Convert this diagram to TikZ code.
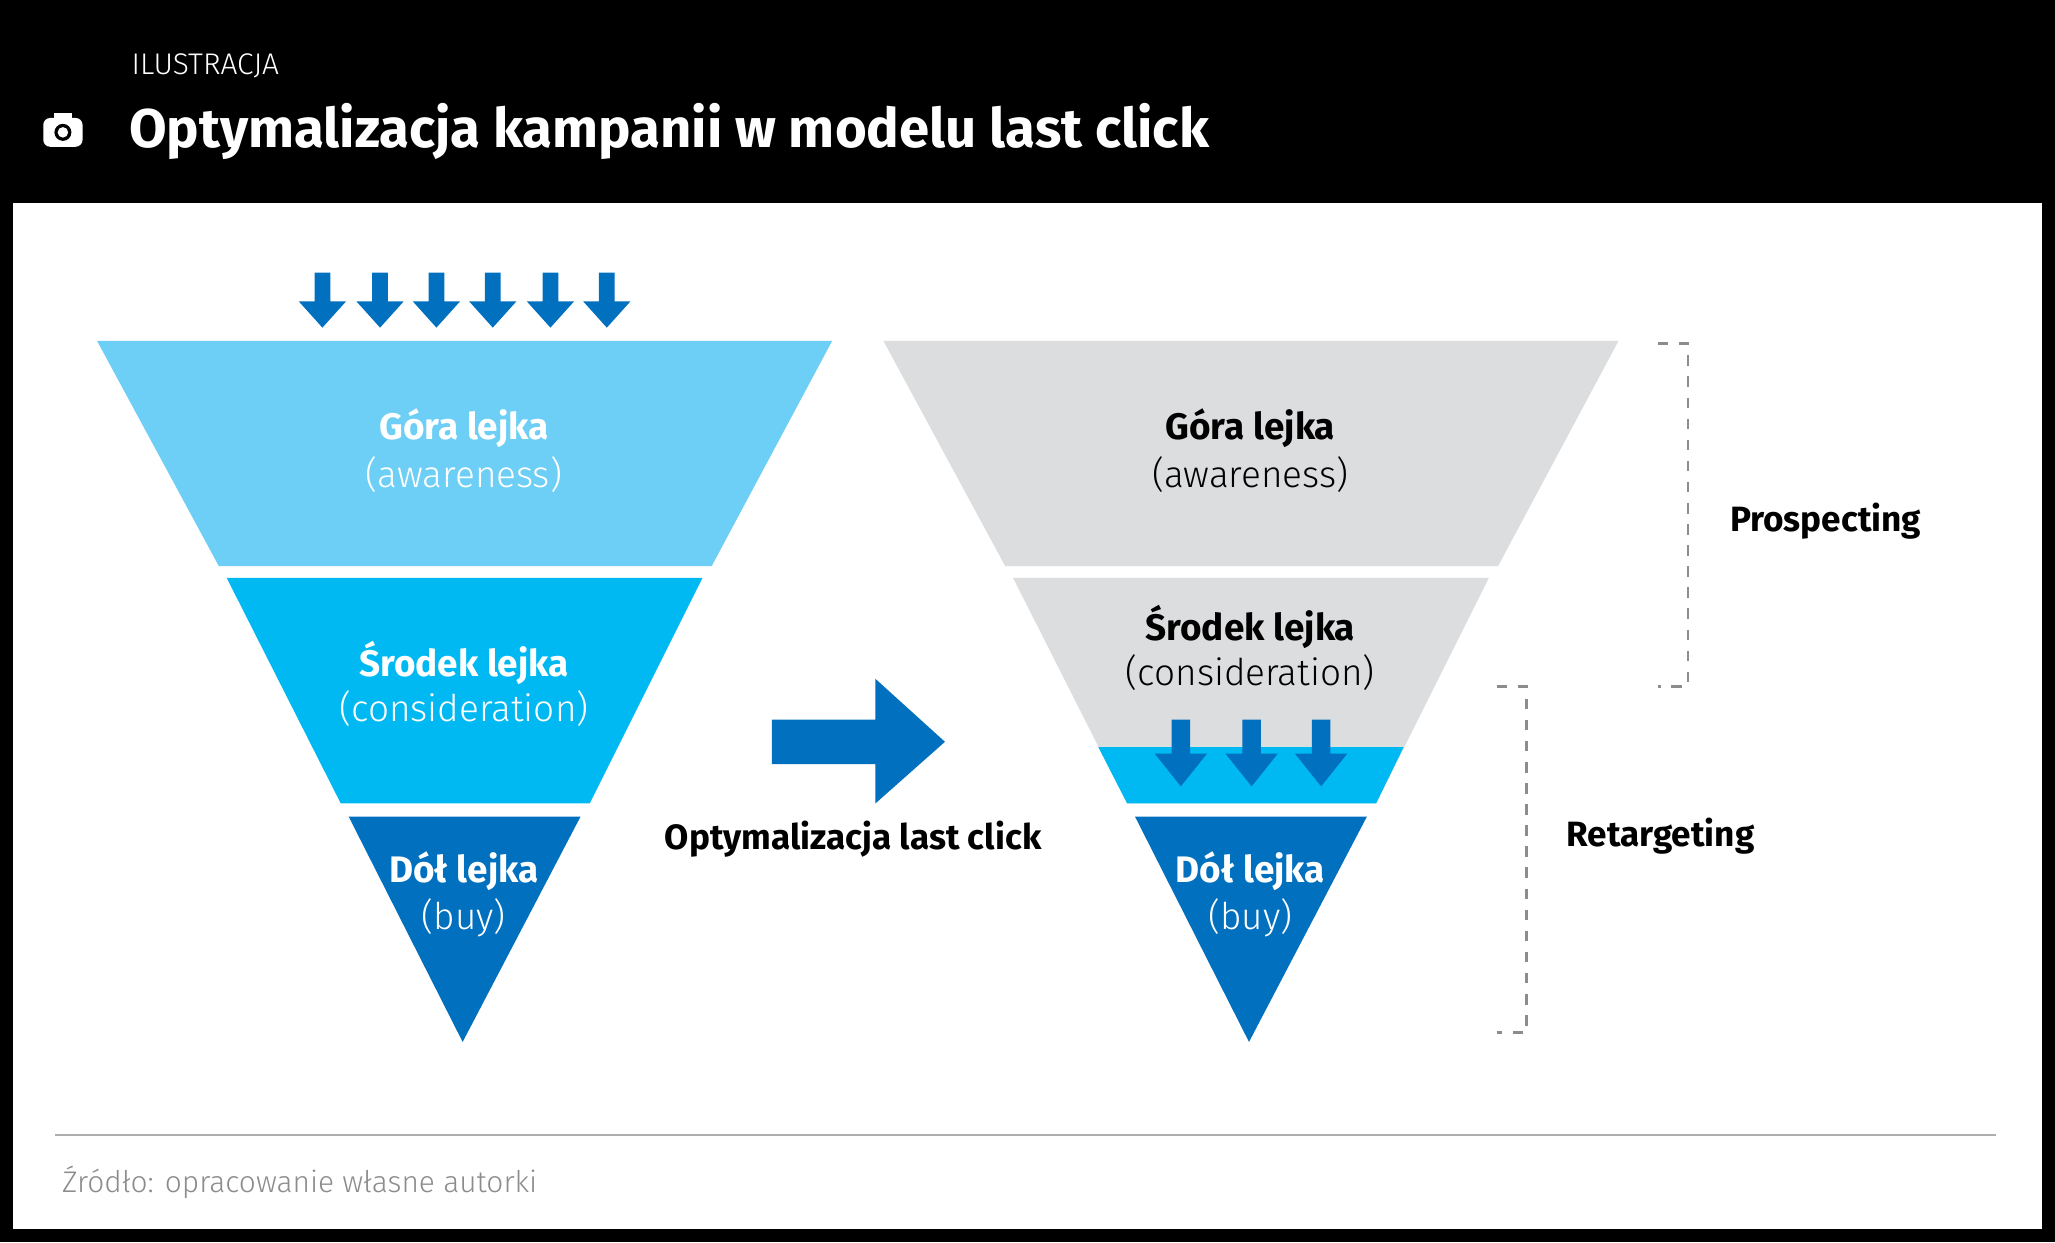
\documentclass[tikz,border=0pt]{standalone}
\usepackage{fontspec}
\setmainfont{Fira Sans}
\newfontfamily\lightfont{Fira Sans}[UprightFont=* Light]
\usetikzlibrary{positioning,calc}
\definecolor{topblue}{HTML}{6DCFF6}
\definecolor{midblue}{HTML}{00B9F2}
\definecolor{lowblue}{HTML}{0070BF}
\definecolor{funnelgray}{HTML}{DCDDDE}
\definecolor{bracketgray}{HTML}{8C8C8C}
\begin{document}
\begin{tikzpicture}[x=0.013106cm,y=-0.013106cm]
    \newcommand{\feedarrow}[1]{
      \fill[lowblue] (#1-6,208) -- (#1+6,208) -- (#1+6,230) -- (#1+18,230) -- (#1,250) -- (#1-18,230) -- (#1-6,230) -- cycle;}
    \newcommand{\smallfeed}[1]{
      \fill[lowblue] (#1-7,549) -- (#1+7,549) -- (#1+7,575) -- (#1+20,575) -- (#1,600) -- (#1-20,575) -- (#1-7,575) -- cycle;}
    \tikzstyle{head}=[font=\fontsize{10.5}{12}\selectfont\bfseries]
    \tikzstyle{sub}=[font=\fontsize{10.5}{12}\selectfont\lightfont]
    \tikzstyle{side}=[font=\fontsize{10}{12}\selectfont\bfseries,text=black]
    \tikzstyle{bracket}=[draw=bracketgray,thick,dashed]

    % frame
    \fill[black] (0,0) rectangle (1568,948);
    \fill[white] (10,155) rectangle (1558,938);
    \useasboundingbox (0,0) rectangle (1568,948);

    % header
    \node[anchor=west,text=white,font=\fontsize{8.5}{10}\selectfont\lightfont] (kicker) at (91,50) {ILUSTRACJA};
    \node[anchor=west,text=white,font=\fontsize{15.5}{18}\selectfont\bfseries] (title) at (89,100) {Optymalizacja kampanii w modelu last click};
    \fill[white,rounded corners=2] (33,90) rectangle (63,112);
    \fill[white] (41,86) rectangle (55,91);
    \fill[black] (48,101) circle (6.5);
    \fill[white] (48,101) circle (4);

    % left funnel
    \fill[topblue] (74,260) -- (635,260) -- (543,432) -- (167,432) -- cycle;
    \fill[midblue] (173,441) -- (536,441) -- (450,613) -- (260,613) -- cycle;
    \fill[lowblue] (266,623) -- (443,623) -- (353,795) -- cycle;
    \foreach \xa in {246,290,333,376,420,463} {\feedarrow{\xa}}
    \node[head,text=white] (leftTop) at (354,327) {Góra lejka};
    \node[sub,text=white] (leftTopSub) at (354,362) {(awareness)};
    \node[head,text=white] (leftMid) at (354,506) {Środek lejka};
    \node[sub,text=white] (leftMidSub) at (354,541) {(consideration)};
    \node[head,text=white] (leftLow) at (354,665) {Dół lejka};
    \node[sub,text=white] (leftLowSub) at (354,700) {(buy)};

    % transition arrow
    \fill[lowblue] (589,549) -- (668,549) -- (668,518) -- (721,566) -- (668,613) -- (668,583) -- (589,583) -- cycle;
    \node[side] (optLabel) at (651,640) {Optymalizacja last click};

    % right funnel
    \fill[funnelgray] (674,260) -- (1235,260) -- (1143,432) -- (767,432) -- cycle;
    \fill[funnelgray] (773,441) -- (1136,441) -- (1050,613) -- (860,613) -- cycle;
    \fill[midblue] (838,570) -- (1071,570) -- (1050,613) -- (860,613) -- cycle;
    \fill[lowblue] (866,623) -- (1043,623) -- (953,795) -- cycle;
    \foreach \xa in {901,955,1008} {\smallfeed{\xa}}
    \node[head,text=black] (rightTop) at (954,327) {Góra lejka};
    \node[sub,text=black] (rightTopSub) at (954,362) {(awareness)};
    \node[head,text=black] (rightMid) at (954,478) {Środek lejka};
    \node[sub,text=black] (rightMidSub) at (954,513) {(consideration)};
    \node[head,text=white] (rightLow) at (954,665) {Dół lejka};
    \node[sub,text=white] (rightLowSub) at (954,700) {(buy)};

    % brackets
    \draw[bracket] (1265,262) -- (1288,262) -- (1288,524) -- (1265,524);
    \node[side] (prospecting) at (1393,398) {Prospecting};
    \draw[bracket] (1142,524) -- (1165,524) -- (1165,788) -- (1142,788);
    \node[side] (retargeting) at (1267,638) {Retargeting};

    % footer
    \draw[bracketgray!70,thick] (42,866) -- (1523,866);
    \node[anchor=west,text=bracketgray,font=\fontsize{8.5}{10}\selectfont\lightfont] (source) at (38,902) {Źródło: opracowanie własne autorki};
\end{tikzpicture}
\end{document}
